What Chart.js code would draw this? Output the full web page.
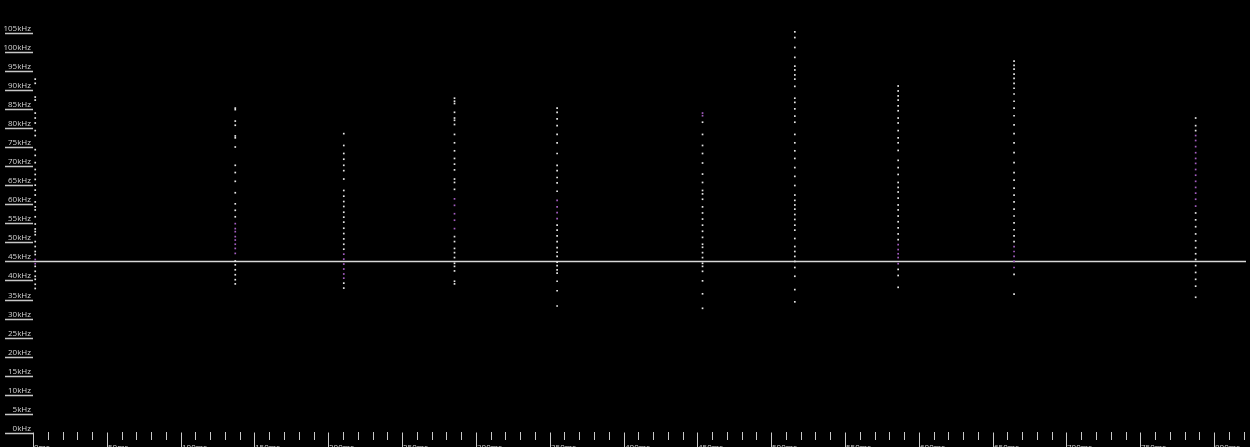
<!DOCTYPE html>
<html>
<head>
<meta charset="utf-8">
<script src="https://cdn.jsdelivr.net/npm/chart.js@4.4.0/dist/chart.umd.min.js"></script>
<style>
  html, body { margin: 0; padding: 0; background: #000; overflow: hidden; }
  canvas { display: block; }
</style>
</head>
<body>
<canvas id="chart" width="1250" height="447"></canvas>
<script>
// time of each detected call (ms)
const callTimes = [1.5, 137, 210.5, 285.5, 355, 453.5, 516, 586, 664.5, 787.5];

// frequencies (kHz) of the points in each call
const call1 = [92.8, 91.7, 88.1, 87.3, 83.9, 82.6, 81.3, 79.3, 78, 74.3, 72.8, 70.9, 69.1, 67.8, 66.5, 65, 63.7, 62.4, 60.6, 59.3, 58.5, 56.7, 54.8, 53.5, 52.8, 52, 50.2, 48.9, 47.6, 46.8, 45.5, 44.4, 43.7, 42.4, 41.1, 40.3, 39, 37.9];
const call2 = [85.2, 84.8, 81.8, 80.7, 77.9, 77.4, 75, 70.2, 68.3, 66, 63, 60.1, 58.4, 56.7, 54.9, 53.6, 52.8, 51.5, 50.6, 49.5, 48.4, 47.1, 45.1, 44.1, 42.8, 41.5, 40.2, 39.1];
const call3 = [78.5, 75.4, 73.3, 71.8, 70.2, 68.8, 66.6, 63.6, 62.1, 60.7, 59.4, 57.9, 56.6, 55.3, 53.7, 52.3, 50.9, 49.5, 48.2, 46.9, 45.6, 44.3, 43, 41.7, 40.6, 39.3, 38];
const call4 = [87.8, 87, 86.4, 84.1, 82.6, 82, 80.9, 78.3, 76.1, 74, 72, 70.5, 69, 66.6, 65.7, 63.9, 61.4, 59.7, 57.5, 55.8, 53.6, 51.5, 50.2, 48.4, 47.3, 46, 44.5, 43.7, 42.5, 39.8, 39.1];
const call5 = [85.2, 84.1, 82.4, 80.6, 78.3, 76.1, 73.3, 70.2, 68.8, 67, 65.6, 63.4, 61, 59.3, 57.8, 56.2, 54.5, 53.2, 51.7, 50.2, 48.6, 47.4, 46.3, 44.8, 43.9, 42.8, 41.9, 39.8, 37.3, 33.3];
const call6 = [83.9, 83.2, 81.5, 78.3, 75.4, 73.3, 70.8, 67.9, 65.7, 63.6, 62.7, 61.3, 59.3, 57.7, 56.1, 54.5, 52.9, 51.3, 49.5, 48.7, 47.3, 46, 44.5, 43.7, 42.4, 39.9, 36.5, 32.7];
const call7 = [105.2, 103.7, 101.1, 98.5, 96.2, 95.2, 93.9, 92.8, 90.9, 87.8, 86.7, 85, 83.1, 81.5, 78.3, 76.1, 74, 72, 69.6, 67.3, 64.9, 62.4, 61, 59.8, 58.7, 57.3, 56, 54.5, 53.2, 51, 48.9, 47.6, 46.3, 45, 43.4, 41.1, 37.6, 34.4];
const call8 = [91, 89.7, 88.4, 87.3, 85.8, 84.5, 82.6, 81.3, 79.3, 77.4, 76.1, 74.1, 71.5, 69.6, 67.8, 65.7, 64.4, 63.2, 61.6, 59.8, 58.5, 56.9, 55.4, 53.8, 52.2, 50.7, 49.4, 48.1, 47, 46, 44.4, 42.9, 41.3, 38.2];
const call9 = [97.5, 96.4, 95.4, 94.1, 93, 91.7, 90.4, 88.9, 87, 85.2, 83.2, 80.8, 78.5, 76.1, 73.5, 70.9, 68.3, 66.3, 64.2, 62.4, 60.6, 58.7, 56.9, 55.1, 53.3, 51.7, 50.2, 48.9, 47.6, 46.3, 45, 43.4, 41.6, 36.4];
const call10 = [82.6, 80.6, 79.3, 78, 76.7, 75.1, 73.5, 72, 70.7, 69.1, 67.6, 66, 64.4, 62.9, 61.3, 59.5, 57.7, 55.9, 54.1, 52.2, 50.4, 48.6, 47, 45.5, 43.9, 42.1, 40.3, 38.5, 35.6];
const calls = [call1, call2, call3, call4, call5, call6, call7, call8, call9, call10];

// part of each call shown in purple [low, high] kHz (null = none)
const purpleBands = [[44, 46], [47, 56], [40, 47.5], [53, 62.5], [55.5, 62], [83, 84.5], null, [44, 50], [42, 50], [58, 79]];

// horizontal marker line (kHz)
const markerKHz = 45;

// axis ticks
const yTickValues = [0, 5, 10, 15, 20, 25, 30, 35, 40, 45, 50, 55, 60, 65, 70, 75, 80, 85, 90, 95, 100, 105];
const xLabelValues = [0, 50, 100, 150, 200, 250, 300, 350, 400, 450, 500, 550, 600, 650, 700, 750, 800];
const xMinorStep = 10;
const xMax = 821.6;
const yMax = 112.5;

// split points into white and purple
const whitePts = [];
const purplePts = [];
calls.forEach((freqs, i) => {
  const band = purpleBands[i];
  freqs.forEach(f => {
    const p = { x: callTimes[i], y: f };
    if (band && f >= band[0] && f <= band[1]) purplePts.push(p);
    else whitePts.push(p);
  });
});

const axisPainter = {
  id: 'axisPainter',
  beforeDraw(chart) {
    const ctx = chart.ctx;
    ctx.save();
    ctx.fillStyle = '#000';
    ctx.fillRect(0, 0, chart.width, chart.height);
    ctx.restore();
  },
  afterDraw(chart) {
    const { ctx, chartArea, scales } = chart;
    const x = scales.x, y = scales.y;
    ctx.save();
    ctx.font = '8px "Open Sans", sans-serif';

    // y labels with underline
    yTickValues.forEach(v => {
      const py = Math.round(y.getPixelForValue(v)) + 0.5;
      ctx.strokeStyle = '#c8c8c8';
      ctx.lineWidth = 1.5;
      ctx.beginPath();
      ctx.moveTo(5, py);
      ctx.lineTo(chartArea.left, py);
      ctx.stroke();
      ctx.fillStyle = '#d4d4d4';
      ctx.textAlign = 'right';
      ctx.textBaseline = 'alphabetic';
      ctx.fillText(v + 'kHz', chartArea.left - 2, py - 2.5);
    });

    // x ticks: minor every 10 ms, major with label every 50 ms
    const top = chartArea.bottom;
    ctx.strokeStyle = '#c8c8c8';
    ctx.lineWidth = 1;
    for (let v = 0; v <= xMax; v += xMinorStep) {
      const px = Math.round(x.getPixelForValue(v)) + 0.5;
      const major = xLabelValues.includes(v);
      ctx.beginPath();
      ctx.moveTo(px, major ? top - 0.5 : top - 1);
      ctx.lineTo(px, major ? chart.height : top + 7);
      ctx.stroke();
    }
    ctx.fillStyle = '#cfcfcf';
    ctx.textAlign = 'left';
    xLabelValues.forEach(v => {
      const px = Math.round(x.getPixelForValue(v));
      ctx.fillText(v + 'ms', px + 1, chart.height + 3);
    });
    ctx.restore();
  }
};

new Chart(document.getElementById('chart'), {
  type: 'scatter',
  data: {
    datasets: [
      {
        type: 'line',
        data: [{ x: 0, y: markerKHz }, { x: xMax, y: markerKHz }],
        borderColor: '#d8d8d8',
        borderWidth: 1.5,
        pointRadius: 0,
        order: 3
      },
      {
        data: whitePts,
        backgroundColor: '#e6e6e6',
        borderWidth: 0,
        pointRadius: 1.2,
        pointStyle: 'rect',
        order: 1
      },
      {
        data: purplePts,
        backgroundColor: '#a35cc0',
        borderWidth: 0,
        pointRadius: 1.2,
        pointStyle: 'rect',
        order: 2
      }
    ]
  },
  options: {
    responsive: false,
    animation: false,
    devicePixelRatio: 1,
    layout: { padding: { left: 33, top: 0, right: 0, bottom: 14 } },
    plugins: { legend: { display: false }, tooltip: { enabled: false } },
    scales: {
      x: { type: 'linear', min: 0, max: xMax, display: false },
      y: { type: 'linear', min: 0, max: yMax, display: false }
    }
  },
  plugins: [axisPainter]
});
</script>
</body>
</html>
